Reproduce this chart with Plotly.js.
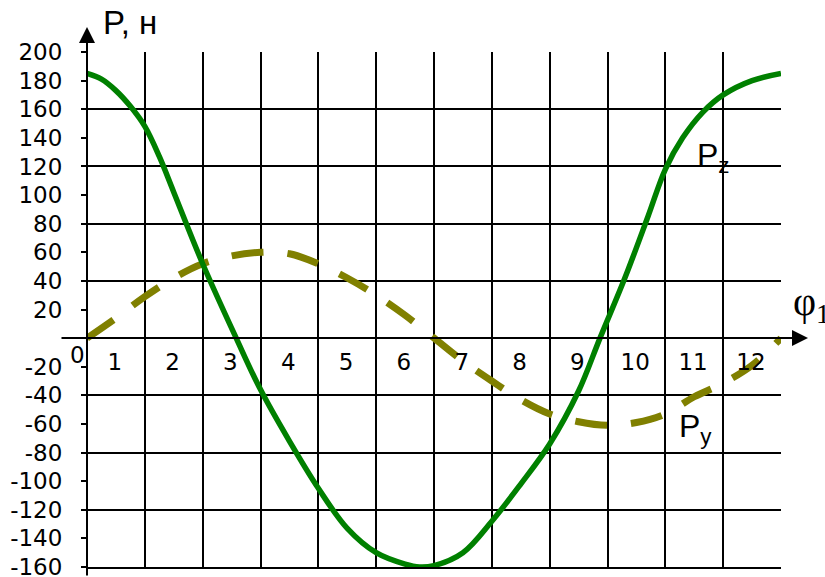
<!DOCTYPE html>
<html>
<head>
<meta charset="utf-8">
<script src="https://cdn.plot.ly/plotly-3.0.1.min.js"></script>
<style>
  html, body { margin: 0; padding: 0; background: #fff; }
  #chart { width: 825px; height: 577px; }
</style>
</head>
<body>
<div id="chart"></div>
<script>
// Force components versus crank angle position (positions 0..12)
const pzPhi = [0, 0.25, 0.5, 0.75, 1, 1.25, 1.5, 2, 2.58, 3, 3.5, 4, 4.5, 5, 5.5, 5.75, 6,
               6.5, 7, 7.5, 8, 8.5, 8.87, 9.3, 9.7, 10, 10.3, 10.65, 11, 11.5, 12];
const pzVal = [185, 181, 173, 162, 148, 127, 102, 52, 0, -36, -72, -105, -133, -150, -158, -160, -159,
               -150, -128, -102, -74, -37, 0, 42, 85, 118, 140, 158, 170, 180, 185];

const pyPhi = [0, 0.5, 1, 1.5, 2, 2.5, 3, 3.5, 4, 4.5, 5, 5.5, 6, 6.5, 7, 7.5, 8, 8.5,
               9, 9.5, 10, 10.5, 11, 11.5, 12];
const pyVal = [0, 14, 29, 42, 52, 57.5, 60, 59, 52, 42, 30, 16, 0, -16, -30, -43, -53, -58.5,
               -61, -59, -53, -41, -31.5, -19, 0];

const xTickText = ['0', '1', '2', '3', '4', '5', '6', '7', '8', '9', '10', '11', '12'];
const yTickVals = [-160, -140, -120, -100, -80, -60, -40, -20, 0, 20, 40, 60, 80, 100, 120, 140, 160, 180, 200];
const yTickText = ['-160', '-140', '-120', '-100', '-80', '-60', '-40', '-20', '', '20', '40', '60',
                   '80', '100', '120', '140', '160', '180', '200'];

const X_RANGE = [0, 12];
const Y_RANGE = [-160, 200];
const W = 825, H = 577;
const M = { l: 87, r: 44, t: 52, b: 10 };
const plotW = W - M.l - M.r, plotH = H - M.t - M.b;
const px2paperX = p => (p - M.l) / plotW;
const px2paperY = p => (H - M.b - p) / plotH;
const zeroFrac = (0 - Y_RANGE[0]) / (Y_RANGE[1] - Y_RANGE[0]);

// labels "1".."12" sit in the middle of each cell; "0" goes just left of the origin
const cellLabels = xTickText.slice(1);
const cellVals = cellLabels.map((t, i) => i + 0.48);

const font = 'Liberation Sans, Arial, sans-serif';
const tickFont = { family: 'DejaVu Sans, sans-serif', size: 23, color: '#000' };

const traces = [
  {
    x: pyPhi, y: pyVal, xaxis: 'x', yaxis: 'y', type: 'scatter', mode: 'lines',
    line: { color: '#808000', width: 7, dash: '32px,24px', shape: 'spline', smoothing: 1 },
    hoverinfo: 'skip'
  },
  {
    x: pzPhi, y: pzVal, xaxis: 'x2', yaxis: 'y2', type: 'scatter', mode: 'lines',
    line: { color: '#008000', width: 5.5, shape: 'spline', smoothing: 1 },
    hoverinfo: 'skip'
  }
];

const layout = {
  width: W, height: H,
  margin: { l: M.l, r: M.r, t: M.t, b: M.b, pad: 0 },
  paper_bgcolor: '#fff', plot_bgcolor: 'rgba(0,0,0,0)',
  showlegend: false,
  font: { family: font, color: '#000', size: 24 },
  xaxis: {
    range: X_RANGE, tickmode: 'linear', tick0: 0, dtick: 1,
    showgrid: true, gridcolor: '#000', gridwidth: 2,
    showline: true, linecolor: '#000', linewidth: 2,
    showticklabels: false, ticks: '', zeroline: false, fixedrange: true
  },
  yaxis: {
    range: Y_RANGE, tickmode: 'array', tickvals: yTickVals, ticktext: yTickText,
    ticks: 'outside', ticklen: 5, tickwidth: 2, tickcolor: '#000',
    ticklabelstandoff: 14, ticklabeloverflow: 'allow',
    showgrid: false, zeroline: false, showline: false, fixedrange: true,
    tickfont: tickFont
  },
  xaxis2: {
    overlaying: 'x', anchor: 'free', position: zeroFrac, side: 'bottom',
    range: X_RANGE, tickmode: 'array', tickvals: cellVals, ticktext: cellLabels,
    ticks: '', ticklabelstandoff: 8, ticklabeloverflow: 'allow',
    showgrid: false, zeroline: false, showline: false, fixedrange: true,
    tickfont: tickFont
  },
  yaxis2: {
    overlaying: 'y', anchor: 'free', position: 0,
    range: Y_RANGE, tickmode: 'linear', tick0: -160, dtick: 40,
    showgrid: true, gridcolor: '#000', gridwidth: 2,
    showticklabels: false, ticks: '', zeroline: false, showline: false, fixedrange: true
  },
  annotations: [
    // vertical axis with arrow
    { xref: 'paper', yref: 'paper', x: 0, y: px2paperY(27), axref: 'pixel', ayref: 'pixel',
      ax: 0, ay: 552, text: '', showarrow: true, arrowhead: 2, arrowsize: 1.6,
      arrowwidth: 2, arrowcolor: '#000', standoff: 0 },
    // horizontal axis with arrow
    { xref: 'paper', yref: 'y', x: px2paperX(808), y: 0, axref: 'pixel', ayref: 'pixel',
      ax: -748, ay: 0, text: '', showarrow: true, arrowhead: 2, arrowsize: 1.6,
      arrowwidth: 2, arrowcolor: '#000', standoff: 0 },
    // origin label
    { xref: 'paper', yref: 'paper', x: px2paperX(77), y: px2paperY(355), xanchor: 'center', yanchor: 'middle',
      text: xTickText[0], showarrow: false, font: tickFont },
    { xref: 'paper', yref: 'paper', x: px2paperX(101), y: px2paperY(23), xanchor: 'left', yanchor: 'middle',
      text: 'P, н', showarrow: false, font: { family: font, size: 33, color: '#000' } },
    { xref: 'paper', yref: 'paper', x: px2paperX(-90), y: px2paperY(17), xanchor: 'left', yanchor: 'middle',
      text: ', н', showarrow: false, font: { family: font, size: 30, color: '#eeeeee' } },
    { xref: 'paper', yref: 'paper', x: px2paperX(695), y: px2paperY(157), xanchor: 'left', yanchor: 'middle',
      text: 'P<sub>z</sub>', showarrow: false, font: { family: font, size: 32, color: '#000' } },
    { xref: 'paper', yref: 'paper', x: px2paperX(677), y: px2paperY(428), xanchor: 'left', yanchor: 'middle',
      text: 'P<sub>y</sub>', showarrow: false, font: { family: font, size: 32, color: '#000' } },
    { xref: 'paper', yref: 'paper', x: px2paperX(791), y: px2paperY(304), xanchor: 'left', yanchor: 'middle',
      text: 'φ<sub>1</sub>', showarrow: false,
      font: { family: 'Liberation Serif, Times New Roman, serif', size: 40, color: '#000' } }
  ]
};

Plotly.newPlot('chart', traces, layout, { displayModeBar: false, staticPlot: true });
</script>
</body>
</html>
